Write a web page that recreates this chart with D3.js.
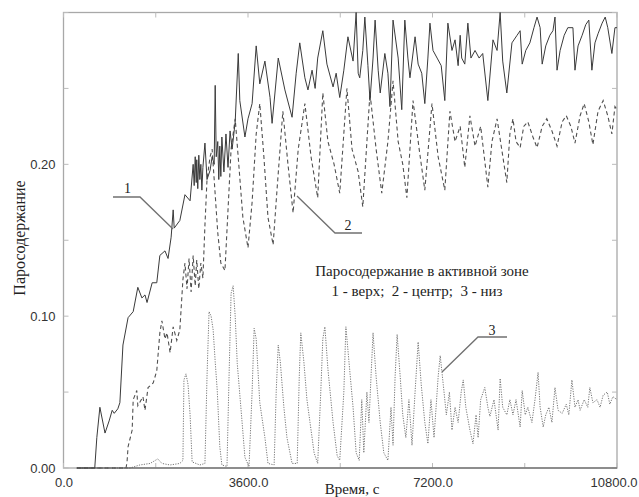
<!DOCTYPE html>
<html>
<head>
<meta charset="utf-8">
<script src="https://cdn.jsdelivr.net/npm/d3@7"></script>
<style>
  html, body { margin: 0; padding: 0; background: #fff; }
  svg { display: block; }
  .tick-label { font-family: "Liberation Sans", Arial, sans-serif; font-size: 13px; fill: #333; }
  .serif { font-family: "Liberation Serif", "Times New Roman", serif; fill: #222; white-space: pre; }
</style>
</head>
<body>
<svg id="chart" width="639" height="497"></svg>
<script>
// Void fraction in the core: top (1), centre (2), bottom (3)
const xTicks = [0, 3600, 7200, 10800];
const yTicks = [0, 0.10, 0.20];

const topTime = [260, 610, 650, 710, 810, 890, 950, 990, 1060, 1100, 1160, 1260, 1360, 1450, 1530, 1590, 1630, 1730, 1820, 1880, 1980, 2040, 2100, 2140, 2160, 2270, 2370, 2470, 2530, 2550, 2570, 2590, 2600, 2620, 2640, 2660, 2680, 2700, 2720, 2760, 2800, 2860, 2900, 2940, 2960, 2980, 3010, 3030, 3050, 3070, 3090, 3130, 3170, 3210, 3250, 3290, 3350, 3410, 3440, 3540, 3600, 3680, 3760, 3830, 3930, 4030, 4070, 4190, 4320, 4460, 4540, 4610, 4710, 4770, 4850, 4910, 4960, 5060, 5140, 5260, 5320, 5390, 5470, 5550, 5650, 5710, 5750, 5780, 5840, 5880, 5940, 5980, 6040, 6080, 6140, 6180, 6270, 6330, 6370, 6430, 6530, 6600, 6660, 6720, 6760, 6860, 6920, 6990, 7050, 7110, 7150, 7210, 7290, 7370, 7440, 7500, 7580, 7640, 7700, 7740, 7770, 7830, 7890, 7950, 8030, 8110, 8180, 8280, 8380, 8460, 8520, 8570, 8650, 8750, 8850, 8910, 8950, 9020, 9100, 9180, 9240, 9300, 9340, 9410, 9490, 9550, 9590, 9630, 9690, 9770, 9840, 9940, 9980, 10040, 10120, 10190, 10250, 10310, 10370, 10430, 10510, 10570, 10620, 10700, 10760, 10800];
const topValue = [0, 0, 0.020, 0.040, 0.023, 0.031, 0.038, 0.036, 0.039, 0.043, 0.081, 0.099, 0.103, 0.119, 0.112, 0.114, 0.109, 0.122, 0.122, 0.140, 0.143, 0.138, 0.152, 0.170, 0.158, 0.163, 0.180, 0.176, 0.200, 0.186, 0.205, 0.188, 0.203, 0.184, 0.206, 0.190, 0.200, 0.183, 0.198, 0.214, 0.190, 0.196, 0.205, 0.200, 0.252, 0.205, 0.215, 0.190, 0.212, 0.192, 0.218, 0.195, 0.220, 0.198, 0.222, 0.210, 0.228, 0.273, 0.242, 0.218, 0.230, 0.240, 0.278, 0.253, 0.268, 0.244, 0.227, 0.270, 0.249, 0.231, 0.260, 0.280, 0.257, 0.249, 0.262, 0.250, 0.270, 0.288, 0.266, 0.251, 0.260, 0.244, 0.262, 0.284, 0.268, 0.300, 0.260, 0.257, 0.275, 0.297, 0.265, 0.242, 0.270, 0.295, 0.262, 0.247, 0.273, 0.260, 0.238, 0.295, 0.270, 0.236, 0.295, 0.270, 0.257, 0.284, 0.266, 0.260, 0.240, 0.270, 0.293, 0.275, 0.270, 0.265, 0.242, 0.293, 0.275, 0.282, 0.265, 0.285, 0.270, 0.266, 0.293, 0.270, 0.275, 0.270, 0.273, 0.242, 0.282, 0.275, 0.300, 0.268, 0.247, 0.280, 0.285, 0.288, 0.266, 0.275, 0.280, 0.290, 0.297, 0.290, 0.266, 0.278, 0.285, 0.288, 0.297, 0.262, 0.275, 0.285, 0.290, 0.290, 0.262, 0.278, 0.285, 0.292, 0.295, 0.262, 0.280, 0.286, 0.293, 0.297, 0.290, 0.273, 0.290, 0.290];

const centreTime = [260, 1220, 1240, 1260, 1340, 1360, 1430, 1450, 1550, 1590, 1650, 1750, 1820, 1880, 1920, 1980, 2020, 2080, 2140, 2210, 2270, 2330, 2370, 2410, 2450, 2490, 2530, 2570, 2600, 2640, 2680, 2720, 2760, 2800, 2860, 2900, 2960, 3010, 3070, 3150, 3210, 3270, 3350, 3420, 3500, 3600, 3680, 3760, 3830, 3910, 3990, 4090, 4170, 4280, 4380, 4480, 4580, 4710, 4830, 4960, 5060, 5160, 5280, 5390, 5530, 5630, 5750, 5840, 5980, 6100, 6210, 6330, 6430, 6530, 6620, 6700, 6820, 6940, 7050, 7190, 7310, 7440, 7540, 7640, 7740, 7830, 7930, 8030, 8140, 8280, 8360, 8460, 8550, 8650, 8710, 8770, 8830, 8910, 8980, 9060, 9160, 9240, 9340, 9430, 9530, 9630, 9730, 9810, 9900, 9980, 10080, 10160, 10250, 10330, 10430, 10530, 10620, 10700, 10760, 10800];
const centreValue = [0, 0, 0.004, 0.014, 0.025, 0.045, 0.051, 0.041, 0.047, 0.038, 0.053, 0.056, 0.064, 0.089, 0.097, 0.085, 0.089, 0.076, 0.093, 0.084, 0.091, 0.124, 0.135, 0.118, 0.138, 0.116, 0.140, 0.120, 0.137, 0.118, 0.135, 0.125, 0.160, 0.190, 0.205, 0.210, 0.180, 0.155, 0.135, 0.130, 0.170, 0.210, 0.230, 0.200, 0.165, 0.145, 0.175, 0.220, 0.240, 0.205, 0.165, 0.147, 0.185, 0.235, 0.200, 0.168, 0.210, 0.240, 0.205, 0.178, 0.247, 0.215, 0.200, 0.181, 0.250, 0.210, 0.195, 0.172, 0.247, 0.210, 0.181, 0.215, 0.255, 0.215, 0.200, 0.178, 0.242, 0.210, 0.183, 0.240, 0.205, 0.183, 0.235, 0.215, 0.225, 0.198, 0.232, 0.212, 0.225, 0.185, 0.215, 0.230, 0.210, 0.188, 0.220, 0.230, 0.215, 0.211, 0.225, 0.228, 0.218, 0.211, 0.225, 0.230, 0.222, 0.212, 0.228, 0.232, 0.225, 0.214, 0.232, 0.240, 0.228, 0.213, 0.235, 0.242, 0.232, 0.220, 0.238, 0.236];

const bottomTime = [260, 1300, 1490, 1690, 1790, 1840, 1920, 2080, 2270, 2330, 2350, 2390, 2430, 2470, 2510, 2660, 2760, 2800, 2840, 2880, 2920, 2960, 3000, 3050, 3090, 3190, 3230, 3270, 3310, 3350, 3390, 3480, 3540, 3620, 3680, 3720, 3760, 3830, 3930, 3990, 4110, 4150, 4190, 4230, 4300, 4360, 4460, 4560, 4600, 4630, 4690, 4750, 4810, 4890, 4960, 5020, 5060, 5100, 5160, 5260, 5340, 5390, 5470, 5510, 5570, 5650, 5710, 5770, 5820, 5860, 5920, 5960, 6000, 6040, 6100, 6180, 6250, 6330, 6390, 6430, 6470, 6510, 6570, 6620, 6680, 6740, 6800, 6860, 6920, 6980, 7050, 7110, 7170, 7230, 7310, 7350, 7410, 7470, 7530, 7580, 7640, 7700, 7760, 7800, 7850, 7930, 7990, 8050, 8090, 8140, 8220, 8280, 8320, 8400, 8480, 8520, 8570, 8650, 8710, 8770, 8830, 8910, 8950, 9010, 9060, 9140, 9200, 9260, 9300, 9360, 9410, 9470, 9530, 9590, 9650, 9730, 9810, 9860, 9920, 9980, 10040, 10080, 10160, 10230, 10270, 10330, 10410, 10470, 10530, 10610, 10660, 10720, 10800];
const bottomValue = [0, 0, 0.002, 0.003, 0.005, 0.006, 0.003, 0.002, 0.003, 0.005, 0.058, 0.062, 0.055, 0.035, 0.004, 0.002, 0.003, 0.060, 0.103, 0.100, 0.091, 0.070, 0.051, 0.014, 0.002, 0.001, 0.060, 0.115, 0.120, 0.100, 0.069, 0.032, 0.007, 0.001, 0.050, 0.092, 0.085, 0.043, 0.020, 0.003, 0.002, 0.050, 0.081, 0.070, 0.040, 0.020, 0.003, 0.003, 0.060, 0.089, 0.070, 0.045, 0.030, 0.010, 0.003, 0.050, 0.085, 0.093, 0.065, 0.030, 0.008, 0.005, 0.050, 0.093, 0.070, 0.040, 0.010, 0.005, 0.045, 0.010, 0.050, 0.030, 0.060, 0.089, 0.060, 0.030, 0.010, 0.005, 0.040, 0.015, 0.060, 0.088, 0.060, 0.035, 0.020, 0.045, 0.015, 0.050, 0.083, 0.055, 0.030, 0.016, 0.045, 0.020, 0.060, 0.074, 0.055, 0.035, 0.050, 0.025, 0.040, 0.030, 0.050, 0.058, 0.040, 0.025, 0.016, 0.035, 0.020, 0.045, 0.053, 0.040, 0.034, 0.045, 0.025, 0.059, 0.040, 0.035, 0.045, 0.035, 0.045, 0.027, 0.051, 0.035, 0.040, 0.030, 0.045, 0.063, 0.040, 0.027, 0.035, 0.040, 0.030, 0.053, 0.038, 0.036, 0.042, 0.035, 0.058, 0.040, 0.045, 0.038, 0.045, 0.040, 0.053, 0.043, 0.045, 0.040, 0.048, 0.050, 0.042, 0.047, 0.045];

const seriesNames = ["1", "2", "3"];
const titleLines = ["Паросодержание в активной зоне", "1 - верх;  2 - центр;  3 - низ"];
const xTitle = "Время, с";
const yTitle = "Паросодержание";

const svg = d3.select("#chart");
const plot = { left: 63.5, right: 617, top: 12.5, bottom: 468 };

const x = d3.scaleLinear().domain([0, 10800]).range([plot.left, plot.right]);
const y = d3.scaleLinear().domain([0, 0.30]).range([plot.bottom, plot.top]);

// Frame
svg.append("rect")
  .attr("x", plot.left).attr("y", plot.top)
  .attr("width", plot.right - plot.left).attr("height", plot.bottom - plot.top)
  .attr("fill", "none").attr("stroke", "#a8a8a8").attr("stroke-width", 1.3);

// Inward minor ticks on all four sides
const tickColor = "#bbb";
const xMinor = d3.range(0, 10801, 1800);
const yMinor = d3.range(0, 0.3001, 0.05);
const ticks = svg.append("g").attr("stroke", tickColor).attr("stroke-width", 1);
xMinor.forEach(t => {
  ticks.append("line").attr("x1", x(t)).attr("x2", x(t)).attr("y1", plot.top).attr("y2", plot.top + 5);
  ticks.append("line").attr("x1", x(t)).attr("x2", x(t)).attr("y1", plot.bottom).attr("y2", plot.bottom - 5);
});
yMinor.forEach(v => {
  ticks.append("line").attr("y1", y(v)).attr("y2", y(v)).attr("x1", plot.left).attr("x2", plot.left + 5);
  ticks.append("line").attr("y1", y(v)).attr("y2", y(v)).attr("x1", plot.right).attr("x2", plot.right - 5);
});

// Axes (labels only; frame drawn above)
const xAxis = d3.axisBottom(x).tickValues(xTicks).tickFormat(d3.format(".1f")).tickSize(0).tickPadding(10);
const gx = svg.append("g").attr("transform", `translate(0,${plot.bottom})`).call(xAxis);
gx.select(".domain").remove();
gx.selectAll("text").attr("class", "tick-label").attr("font-family", null).attr("font-size", null);
// keep the last label inside the page edge
gx.selectAll(".tick").filter(d => d === 10800).select("text").attr("text-anchor", "end").attr("x", 20);

const yAxis = d3.axisLeft(y).tickValues(yTicks).tickFormat(d3.format(".2f")).tickSize(0).tickPadding(8);
const gy = svg.append("g").attr("transform", `translate(${plot.left},0)`).call(yAxis);
gy.select(".domain").remove();
gy.selectAll("text").attr("class", "tick-label").attr("font-family", null).attr("font-size", null);

// Curves
const line = d3.line().x(d => x(d[0])).y(d => y(d[1]));
const zip = (ts, vs) => ts.map((t, i) => [t, vs[i]]);
svg.append("clipPath").attr("id", "plotClip")
  .append("rect").attr("x", plot.left).attr("y", plot.top - 1)
  .attr("width", plot.right - plot.left).attr("height", plot.bottom - plot.top + 2);
const curves = svg.append("g").attr("clip-path", "url(#plotClip)").attr("fill", "none");

curves.append("path").datum(zip(bottomTime, bottomValue))
  .attr("d", line).attr("stroke", "#767676").attr("stroke-width", 1).attr("stroke-dasharray", "1.2,1.3");
curves.append("path").datum(zip(centreTime, centreValue))
  .attr("d", line).attr("stroke", "#505050").attr("stroke-width", 1.1).attr("stroke-dasharray", "4,3");
curves.append("path").datum(zip(topTime, topValue))
  .attr("d", line).attr("stroke", "#3a3a3a").attr("stroke-width", 1);

// Bottom axis line (drawn dark over the frame)
svg.append("line").attr("x1", x(260)).attr("x2", plot.right)
  .attr("y1", plot.bottom).attr("y2", plot.bottom)
  .attr("stroke", "#555").attr("stroke-width", 1.2);

// Curve callouts with leader lines
const leaders = svg.append("g").attr("stroke", "#707070").attr("stroke-width", 1.3).attr("fill", "none");
leaders.append("polyline").attr("points", "113,197 140,197 173,229");
leaders.append("polyline").attr("points", "297,196 335,233 362,233");
leaders.append("polyline").attr("points", "507,337 478,337 442,372");

svg.append("text").attr("class", "serif").attr("x", 127.5).attr("y", 193).attr("text-anchor", "middle").attr("font-size", 14).text(seriesNames[0]);
svg.append("text").attr("class", "serif").attr("x", 348).attr("y", 230).attr("text-anchor", "middle").attr("font-size", 14).text(seriesNames[1]);
svg.append("text").attr("class", "serif").attr("x", 492).attr("y", 335).attr("text-anchor", "middle").attr("font-size", 14).text(seriesNames[2]);

// Caption inside the plot
svg.append("text").attr("class", "serif").attr("x", 422).attr("y", 276).attr("text-anchor", "middle").attr("font-size", 15).text(titleLines[0]);
svg.append("text").attr("class", "serif").attr("x", 417).attr("y", 296).attr("text-anchor", "middle").attr("font-size", 15).text(titleLines[1]);

// Axis titles
svg.append("text").attr("class", "serif").attr("x", 352).attr("y", 494).attr("text-anchor", "middle").attr("font-size", 15).text(xTitle);
svg.append("text").attr("class", "serif").attr("transform", "translate(25,238) rotate(-90)").attr("text-anchor", "middle").attr("font-size", 16).text(yTitle);
</script>
</body>
</html>
